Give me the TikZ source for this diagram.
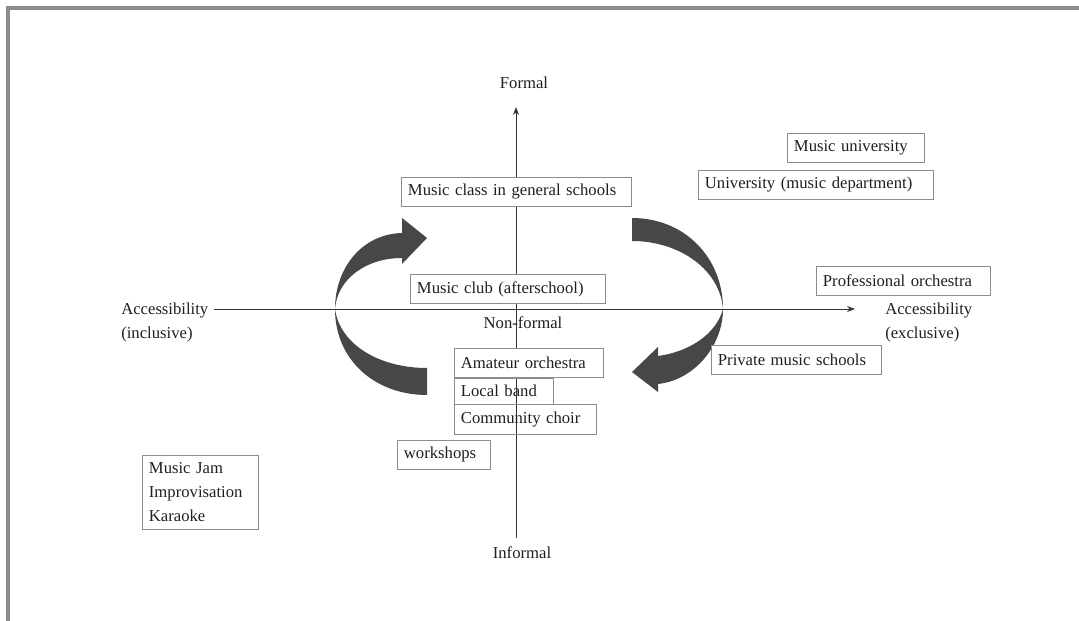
\documentclass[tikz,border=0pt]{standalone}
\usepackage{fontspec}
\setmainfont{Liberation Serif}
\usepackage{tikz}
\usetikzlibrary{arrows.meta,positioning}
\tikzstyle{frameline} = [line width=2.4pt, draw=black!45]
\tikzstyle{tbox} = [rectangle, draw=black!45, fill=white, anchor=north west, inner xsep=5pt, inner ysep=2pt, minimum height=22pt, align=left, text=black!88]
\tikzstyle{axisline} = [line width=0.7pt, draw=black!80, -{Stealth[length=6pt,width=4.5pt]}]
\tikzstyle{axislabel} = [text=black!88, align=left, inner sep=0pt]
\tikzstyle{cyclearrow} = [fill=black!72, draw=none]

\begin{document}
\begin{tikzpicture}[x=0.75pt, y=-0.75pt, font=\fontsize{12.5pt}{18pt}\selectfont]
\useasboundingbox (0,0) rectangle (1079,621);
% page frame
\draw[frameline] (8,621) -- (8,8) -- (1079,8);
% the two curved arrows
\fill[cyclearrow] (427,368) .. controls (380,368) and (340,345) .. (335,309)
      .. controls (337,280) and (365,258) .. (402,258)
      -- (402,264) -- (427,238) -- (402,218) -- (402,233)
      .. controls (362,234) and (335,268) .. (335,309)
      .. controls (335,360) and (375,395) .. (427,395) -- cycle;
\fill[cyclearrow] (632,218) .. controls (685,218) and (723,258) .. (723,309)
      .. controls (723,345) and (695,380) .. (658,384)
      -- (658,392) -- (632,372) -- (658,347) -- (658,356)
      .. controls (688,352) and (716,335) .. (723,309)
      .. controls (720,270) and (680,241) .. (632,241) -- cycle;
% axes
\coordinate (vbot) at (516,538);
\coordinate (vtop) at (516,107);
\coordinate (hleft) at (214,309);
\coordinate (hright) at (855,309);
\draw[axisline] (vbot) -- (vtop);
\draw[axisline] (hleft) -- (hright);
\node[axislabel] (formal) at (524,83) {Formal};
\node[axislabel] (informal) at (522,553) {Informal};
\node[axislabel] (nonformal) at (523,323) {Non-formal};
\node[axislabel,anchor=west] (inclusive) at (121,322) 
          {Accessibility\\(inclusive)};
\node[axislabel,anchor=west] (exclusive) at (885,322) 
          {Accessibility\\(exclusive)};
% boxes
\node[tbox,text width=92.75pt] (musicuni) at (787,133) 
          {Music university};
\node[tbox,text width=166.25pt] (unidept) at (698,170) 
          {University (music department)};
\node[tbox,text width=162.5pt] (genschool) at (401,177) 
          {Music class in general schools};
\node[tbox,text width=120.5pt] (proorch) at (816,266) 
          {Professional orchestra};
\node[tbox,text width=136.25pt] (club) at (410,274) 
          {Music club (afterschool)};
\node[tbox,text width=117.5pt] (privschool) at (711,345) 
          {Private music schools};
\node[tbox,text width=101.75pt] (amateur) at (454,348) 
          {Amateur orchestra};
\node[tbox,fill=none,text width=64.25pt,minimum height=19.5pt] (localband) at (amateur.south west) 
          {Local band};
\node[tbox,fill=none,text width=96.5pt] (choir) at (localband.south west) 
          {Community choir};
\node[tbox,text width=59.75pt] (workshops) at (397,440) 
          {workshops};
\node[tbox,text width=77pt,minimum height=55.5pt] (jam) at (142,455) 
          {Music Jam\\Improvisation\\Karaoke};
\end{tikzpicture}
\end{document}
